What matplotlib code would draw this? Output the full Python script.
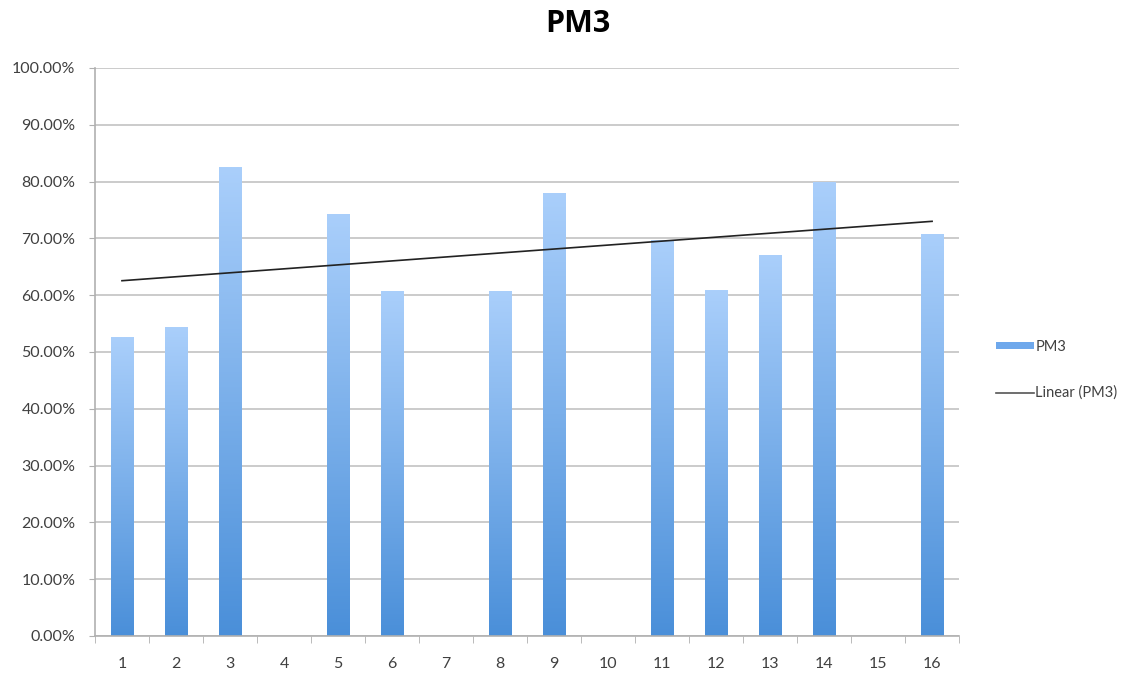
import numpy as np
import matplotlib
matplotlib.use("Agg")
import matplotlib.pyplot as plt
from matplotlib.colors import LinearSegmentedColormap
from matplotlib.patches import Patch
from matplotlib.lines import Line2D
from matplotlib.ticker import FuncFormatter, MultipleLocator

# Session numbers and PM3 scores (percent); empty sessions have no value
sessions = list(range(1, 17))
pm3 = [52.6, 54.4, 82.5, None, 74.3, 60.8, None, 60.8, 78.0, None,
       69.8, 60.9, 67.1, 79.9, None, 70.8]

title = "PM3"
series_label = "PM3"
trend_label = "Linear (PM3)"

plt.rcParams['font.family'] = ['Lato', 'DejaVu Sans']

fig = plt.figure(figsize=(11.4, 6.75), dpi=100)
ax = fig.add_axes([0.0833, 0.0578, 0.758, 0.8415])

xs = np.array([s for s, v in zip(sessions, pm3) if v is not None], dtype=float)
ys = np.array([v for v in pm3 if v is not None], dtype=float)

bar_w = 0.41
grad = LinearSegmentedColormap.from_list("bar", ["#4a8fd9", "#aacffb"])
bars = ax.bar(xs, ys, width=bar_w, color="none", edgecolor="none", zorder=2)
gradient = np.linspace(0, 1, 256).reshape(-1, 1)
for rect in bars:
    x0 = rect.get_x()
    h = rect.get_height()
    im = ax.imshow(gradient, cmap=grad, origin="lower", aspect="auto",
                   extent=[x0, x0 + rect.get_width(), 0, h], zorder=2,
                   interpolation="bilinear")
    im.set_clip_path(rect)

# Least-squares trendline through the sessions that have a score
slope, intercept = np.polyfit(xs, ys, 1)
tx = np.array([sessions[0], sessions[-1]], dtype=float)
ax.plot(tx, slope * tx + intercept, color="#222222", lw=1.2, zorder=3)

ax.set_xlim(0.5, 16.5)
ax.set_ylim(0, 100)
ax.yaxis.set_major_locator(MultipleLocator(10))
ax.yaxis.set_major_formatter(FuncFormatter(lambda v, p: f"{v:.2f}%"))
ax.set_xticks(sessions)
ax.set_xticklabels([str(s) for s in sessions])
ax.set_xticks(np.arange(0.5, 17, 1), minor=True)
ax.tick_params(axis="x", which="major", length=0, pad=15, labelsize=11.5,
               colors="#404040")
ax.tick_params(axis="x", which="minor", length=5, color="#b0b0b0", direction="out")
ax.tick_params(axis="y", length=4, color="#b0b0b0", pad=10, labelsize=11.5,
               labelcolor="#404040")

ax.grid(axis="y", color="#c2c2c2", lw=1.2, zorder=0)
ax.set_axisbelow(True)
for side in ("top", "right"):
    ax.spines[side].set_visible(False)
for side in ("left", "bottom"):
    ax.spines[side].set_color("#b0b0b0")
    ax.spines[side].set_linewidth(1.2)

fig.text(0.507, 0.965, title, ha="center", va="center", fontsize=22,
         fontweight="bold", family=["Open Sans", "DejaVu Sans"])

handles = [Patch(facecolor="#6ea8ec", edgecolor="none"),
           Line2D([0], [0], color="#555555", lw=1.2)]
fig.legend(handles, [series_label, trend_label], loc="center left",
           bbox_to_anchor=(0.862, 0.452), frameon=False, fontsize=10.5,
           labelspacing=2.2, handlelength=2.6, handleheight=0.4,
           handletextpad=0.1, labelcolor="#404040")

fig.savefig("out.png", dpi=100, facecolor="white")
